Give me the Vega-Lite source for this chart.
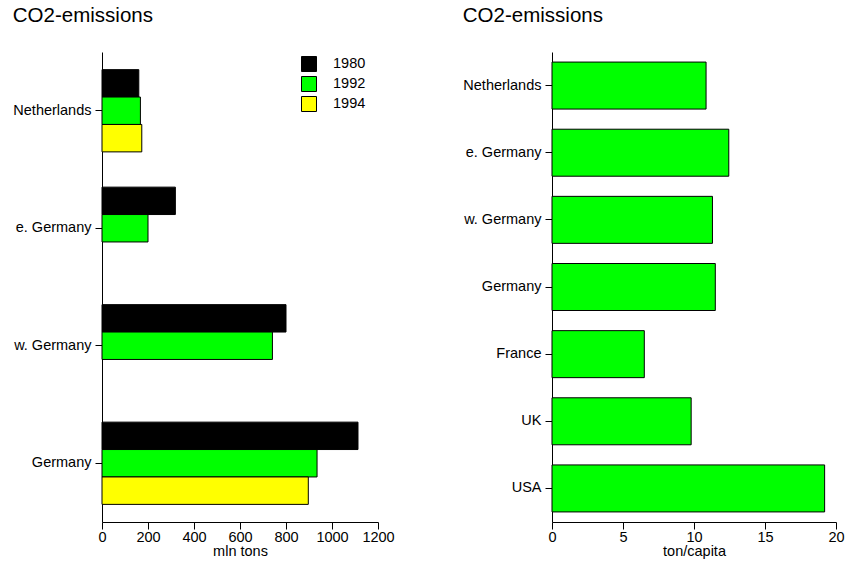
{
  "$schema": "https://vega.github.io/schema/vega-lite/v6.json",
  "padding": {"left": 12, "top": 5, "right": 5, "bottom": 5},
  "background": "white",
  "config": {
    "font": "Liberation Sans",
    "view": {"stroke": null},
    "axis": {"domainColor": "black", "tickColor": "black", "labelColor": "black", "titleColor": "black", "grid": false, "labelFontSize": 14.5, "titleFontSize": 14.5, "titleFontWeight": "normal", "domainWidth": 1, "tickWidth": 1, "labelOverlap": false, "labelFlush": false},
    "axisX": {"tickSize": 7, "labelPadding": 1, "titlePadding": 1},
    "axisY": {"tickSize": 7, "labelPadding": 4},
    "title": {"fontSize": 20.5, "fontWeight": "normal", "anchor": "start", "frame": "bounds", "color": "black", "offset": 26},
    "concat": {"spacing": 67}
  },
  "datasets": {
    "abs": [
      {"country": "Netherlands", "year": "1980", "value": 160},
      {"country": "Netherlands", "year": "1992", "value": 167},
      {"country": "Netherlands", "year": "1994", "value": 173},
      {"country": "e. Germany", "year": "1980", "value": 319},
      {"country": "e. Germany", "year": "1992", "value": 200},
      {"country": "w. Germany", "year": "1980", "value": 800},
      {"country": "w. Germany", "year": "1992", "value": 741},
      {"country": "Germany", "year": "1980", "value": 1113},
      {"country": "Germany", "year": "1992", "value": 935},
      {"country": "Germany", "year": "1994", "value": 897}
    ],
    "percap": [
      {"country": "Netherlands", "value": 10.85},
      {"country": "e. Germany", "value": 12.45},
      {"country": "w. Germany", "value": 11.3},
      {"country": "Germany", "value": 11.5},
      {"country": "France", "value": 6.5},
      {"country": "UK", "value": 9.8},
      {"country": "USA", "value": 19.2}
    ]
  },
  "hconcat": [
    {
      "title": "CO2-emissions",
      "width": 276,
      "height": 470,
      "data": {"name": "abs"},
      "mark": {"type": "bar", "stroke": "black", "strokeWidth": 1},
      "encoding": {
        "y": {"field": "country", "type": "nominal", "sort": ["Netherlands", "e. Germany", "w. Germany", "Germany"], "scale": {"paddingInner": 0.3, "paddingOuter": 0.15}, "axis": {"title": null}},
        "yOffset": {"field": "year", "type": "nominal", "sort": ["1980", "1992", "1994"], "scale": {"paddingInner": 0, "paddingOuter": 0}},
        "x": {"field": "value", "type": "quantitative", "scale": {"domain": [0, 1200], "nice": false}, "axis": {"title": "mln tons", "values": [0, 200, 400, 600, 800, 1000, 1200], "format": "d"}},
        "color": {"field": "year", "type": "nominal", "scale": {"domain": ["1980", "1992", "1994"], "range": ["#000000", "#00ff00", "#ffff00"]},
          "legend": {"orient": "none", "legendX": 199, "legendY": 4, "title": null, "symbolType": "square", "symbolSize": 225, "symbolStrokeColor": "black", "symbolStrokeWidth": 1, "symbolOpacity": 1, "labelFontSize": 14.5, "labelOffset": 16, "rowPadding": 0, "labelColor": "black"}}
      }
    },
    {
      "title": "CO2-emissions",
      "width": 284,
      "height": 470,
      "data": {"name": "percap"},
      "mark": {"type": "bar", "stroke": "black", "strokeWidth": 1, "fill": "#00ff00"},
      "encoding": {
        "y": {"field": "country", "type": "nominal", "sort": ["Netherlands", "e. Germany", "w. Germany", "Germany", "France", "UK", "USA"], "scale": {"paddingInner": 0.3, "paddingOuter": 0.15}, "axis": {"title": null}},
        "x": {"field": "value", "type": "quantitative", "scale": {"domain": [0, 20], "nice": false}, "axis": {"title": "ton/capita", "values": [0, 5, 10, 15, 20], "format": "d"}}
      }
    }
  ]
}
